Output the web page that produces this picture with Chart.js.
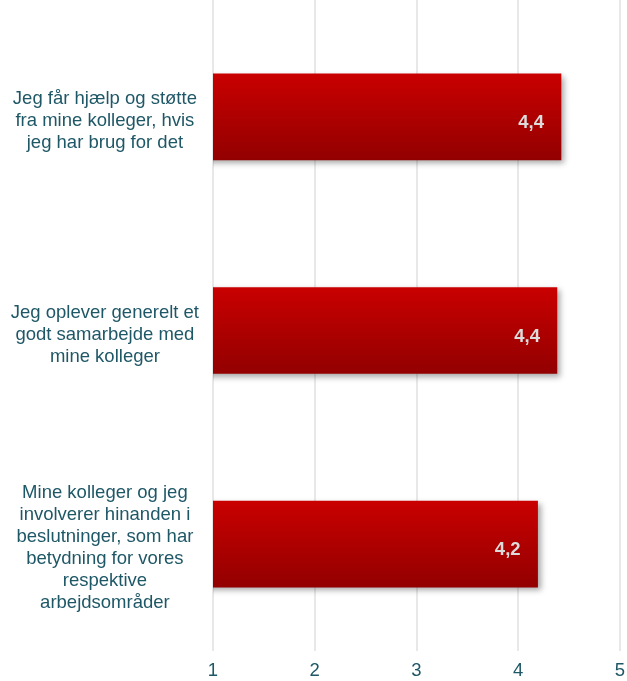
<!DOCTYPE html>
<html>
<head>
<meta charset="utf-8">
<script src="https://cdn.jsdelivr.net/npm/chart.js@4.4.1/dist/chart.umd.min.js"></script>
<style>
  html, body { margin: 0; padding: 0; background: #fff; }
  #wrap { width: 627px; height: 681px; }
</style>
</head>
<body>
<div id="wrap"><canvas id="chart"></canvas></div>
<script>
  // ── Data ──────────────────────────────────────────────────────────────────
  const CATEGORIES = [
    ["Jeg får hjælp og støtte", "fra mine kolleger, hvis", "jeg har brug for det"],
    ["Jeg oplever generelt et", "godt samarbejde med", "mine kolleger"],
    ["Mine kolleger og jeg", "involverer hinanden i", "beslutninger, som har", "betydning for vores", "respektive", "arbejdsområder"],
  ];
  const VALUES = [4.42, 4.38, 4.19];
  const VALUE_LABELS = ["4,4", "4,4", "4,2"];
  const X_TICKS = [1, 2, 3, 4, 5];

  // ── Colours ───────────────────────────────────────────────────────────────
  const INK  = "#1E5766";
  const GRID = "#E8E8E8";
  const FONT = "'Liberation Sans', Arial, sans-serif";
  const BAR_H = 86;

  const ctx = document.getElementById("chart");

  // full-height grid lines (reference lines run to the top edge)
  const gridPlugin = {
    id: "fullGrid",
    beforeDatasetsDraw(chart) {
      const c = chart.ctx, xs = chart.scales.x, area = chart.chartArea;
      c.save();
      c.strokeStyle = GRID;
      c.lineWidth = 2;
      X_TICKS.forEach(v => {
        const px = Math.round(xs.getPixelForValue(v));
        c.beginPath();
        c.moveTo(px, 0);
        c.lineTo(px, area.bottom);
        c.stroke();
      });
      c.restore();
    },
  };

  const shadowPlugin = {
    id: "barShadow",
    beforeDatasetsDraw(chart) {
      const c = chart.ctx;
      c.save();
      c.shadowColor = "rgba(0,0,0,0.35)";
      c.shadowBlur = 6;
      c.shadowOffsetX = 3;
      c.shadowOffsetY = 3;
    },
    afterDatasetsDraw(chart) {
      chart.ctx.restore();
    },
  };

  const labelPlugin = {
    id: "valueLabels",
    afterDatasetsDraw(chart) {
      const c = chart.ctx;
      const meta = chart.getDatasetMeta(0);
      c.save();
      c.font = "bold 18.5px " + FONT;
      c.fillStyle = "#DCDCDC";
      c.textAlign = "right";
      c.textBaseline = "middle";
      meta.data.forEach((bar, i) => {
        c.fillText(VALUE_LABELS[i], bar.x - 17, bar.y + 6);
      });
      c.restore();
    },
  };

  function barGradient(context) {
    const chart = context.chart;
    const ys = chart.scales && chart.scales.y;
    if (!chart.chartArea || !ys) return "#B00000";
    const cy = ys.getPixelForValue(context.dataIndex);
    if (!isFinite(cy)) return "#B00000";
    const g = chart.ctx.createLinearGradient(0, cy - BAR_H / 2, 0, cy + BAR_H / 2);
    g.addColorStop(0, "#C90000");
    g.addColorStop(1, "#930000");
    return g;
  }

  new Chart(ctx, {
    type: "bar",
    data: {
      labels: CATEGORIES,
      datasets: [{
        data: VALUES,
        backgroundColor: barGradient,
        borderWidth: 0,
        barThickness: BAR_H,
      }],
    },
    options: {
      indexAxis: "y",
      responsive: true,
      maintainAspectRatio: false,
      animation: false,
      layout: { padding: { top: 10, right: 7, left: 0, bottom: 0 } },
      plugins: {
        legend: { display: false },
        tooltip: { enabled: false },
      },
      scales: {
        x: {
          min: 1,
          max: 5,
          grid: { display: false, drawTicks: false },
          border: { display: false },
          afterFit: (s) => { s.height = 30; s.paddingLeft = 0; s.paddingRight = 0; },
          ticks: {
            stepSize: 1,
            color: INK,
            padding: 9,
            font: { family: FONT, size: 18.5 },
          },
        },
        y: {
          grid: { display: false, drawTicks: false },
          border: { display: false },
          afterFit: (s) => { s.width = 213; s.paddingTop = 0; s.paddingBottom = 0; },
          ticks: {
            autoSkip: false,
            color: INK,
            crossAlign: "center",
            padding: 14,
            labelOffset: 4,
            font: { family: FONT, size: 18.5, lineHeight: 1.19 },
          },
        },
      },
    },
    plugins: [gridPlugin, shadowPlugin, labelPlugin],
  });
</script>
</body>
</html>
